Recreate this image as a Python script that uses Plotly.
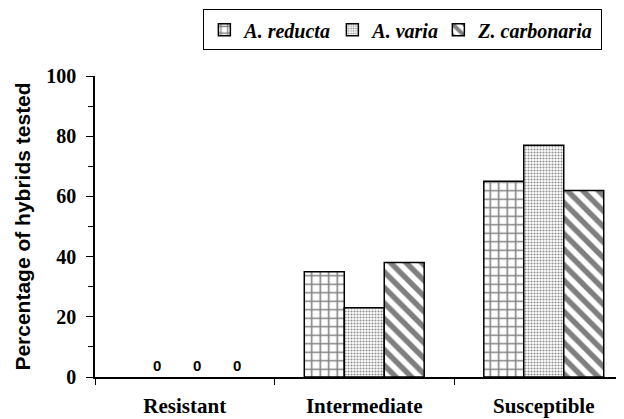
import plotly.graph_objects as go

categories = ["Resistant", "Intermediate", "Susceptible"]
species = ["A. reducta", "A. varia", "Z. carbonaria"]
reducta = [0, 35, 65]
varia = [0, 23, 77]
carbonaria = [0, 38, 62]
y_ticks = [0, 20, 40, 60, 80, 100]

series = [reducta, varia, carbonaria]
patterns = [
    dict(shape="+", fgcolor="black", bgcolor="white", size=8.5, solidity=0.33),
    dict(shape=".", fgcolor="#222222", bgcolor="white", size=3, solidity=0.4),
    dict(shape="\\", fgcolor="black", bgcolor="white", size=11, solidity=0.5),
]
legend_widths = [83, 61, 118]

SERIF = "Liberation Serif"
SANS = "Liberation Sans"

fig = go.Figure()
for name, vals, pat, lw in zip(species, series, patterns, legend_widths):
    # points fed in reverse so the legend swatch takes a non-zero bar's outline
    xs = categories[::-1]
    ys = vals[::-1]
    fig.add_trace(go.Bar(
        x=xs, y=ys, name=name, legendwidth=lw,
        marker=dict(color="white", pattern=pat,
                    line=dict(color="black", width=[0 if v == 0 else 1.5 for v in ys])),
        text=["\u00a0" * 6 + "0" if v == 0 else "" for v in ys],
        textposition="outside",
        textfont=dict(family=SANS, size=15, color="black", weight="bold"),
        cliponaxis=False,
    ))

fig.update_layout(
    width=616, height=411,
    margin=dict(l=87, r=0, t=68, b=42, autoexpand=False),
    paper_bgcolor="white", plot_bgcolor="white",
    barmode="group", bargap=0.332, bargroupgap=0,
    showlegend=True,
    legend=dict(
        orientation="h", xref="container", yref="container",
        x=0.641, xanchor="center", y=0.997, yanchor="top",
        font=dict(family=SERIF, size=20, color="black", weight="bold", style="italic"),
        bordercolor="black", borderwidth=1, bgcolor="white",
        itemwidth=30, tracegroupgap=0,
    ),
    xaxis=dict(
        type="category", categoryorder="array", categoryarray=categories,
        range=[-0.5, 2.447], showline=True, linecolor="black", linewidth=1.5,
        ticks="outside", tickson="boundaries", ticklen=6, tickcolor="black", tickwidth=1,
        tickfont=dict(family=SERIF, size=21, color="black", weight="bold"),
        ticklabelstandoff=9, showgrid=False, zeroline=False,
    ),
    yaxis=dict(
        range=[0, 100], tickvals=y_ticks, showline=True, linecolor="black", linewidth=1.5,
        ticks="outside", ticklen=7, tickcolor="black", tickwidth=1,
        minor=dict(dtick=10, ticks="outside", ticklen=5, tickcolor="black", tickwidth=1),
        tickfont=dict(family=SERIF, size=20, color="black", weight="bold"),
        ticklabelstandoff=6, showgrid=False, zeroline=False,
        title=dict(text="Percentage of hybrids tested",
                   font=dict(family=SANS, size=21, color="black", weight="bold"),
                   standoff=10),
    ),
)

fig.write_html("out.html")
